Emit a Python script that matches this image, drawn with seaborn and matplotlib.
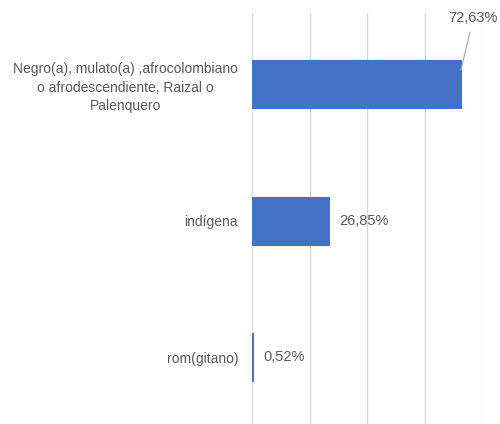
import matplotlib
matplotlib.use('Agg')
import matplotlib.pyplot as plt
import pandas as pd
import seaborn as sns

# Data
categorias = ['Negro(a), mulato(a) ,afrocolombiano\no afrodescendiente, Raizal o\nPalenquero',
              'indígena',
              'rom(gitano)']
porcentajes = [72.63, 26.85, 0.52]
etiquetas = ['72,63%', '26,85%', '0,52%']

df = pd.DataFrame({'grupo': categorias, 'pct': porcentajes})

sns.set_style('white')
plt.rcParams['font.family'] = ['Liberation Sans', 'DejaVu Sans']

fig = plt.figure(figsize=(5, 4.24), dpi=100)
ax = fig.add_axes([0.504, 0.0, 0.46, 0.969])

sns.barplot(data=df, x='pct', y='grupo', orient='h', color='#4472C4',
            width=0.35, saturation=1, ax=ax, zorder=3,
            edgecolor='#4472C4', linewidth=0.8)

ax.set_xlim(0, 80)
ax.set_ylim(2.49, -0.52)
ax.set_xticks([0, 20, 40, 60, 80])
ax.xaxis.grid(True, color='#d9d9d9', linewidth=1, zorder=0)
ax.set_xticklabels([])
ax.set_xlabel('')
ax.set_ylabel('')
for s in ax.spines.values():
    s.set_visible(False)
ax.tick_params(axis='y', length=0, pad=10, labelsize=10, labelcolor='#595959')
ax.tick_params(axis='x', length=0)
for lbl in ax.get_yticklabels():
    lbl.set_multialignment('center')
    lbl.set_linespacing(1.4)

# value labels
for i, (v, t) in enumerate(zip(porcentajes, etiquetas)):
    if i == 0:
        ax.annotate(t, xy=(v, i - 0.1), xytext=(9, 38), textcoords='offset points',
                    ha='center', va='center', fontsize=10.5, color='#595959',
                    arrowprops=dict(arrowstyle='-', color='#a6a6a6', lw=0.8,
                                    shrinkA=3, shrinkB=0))
    else:
        ax.annotate(t, xy=(v, i), xytext=(7, 0), textcoords='offset points',
                    ha='left', va='center', fontsize=10.5, color='#595959')

fig.savefig('out.png', dpi=100)
